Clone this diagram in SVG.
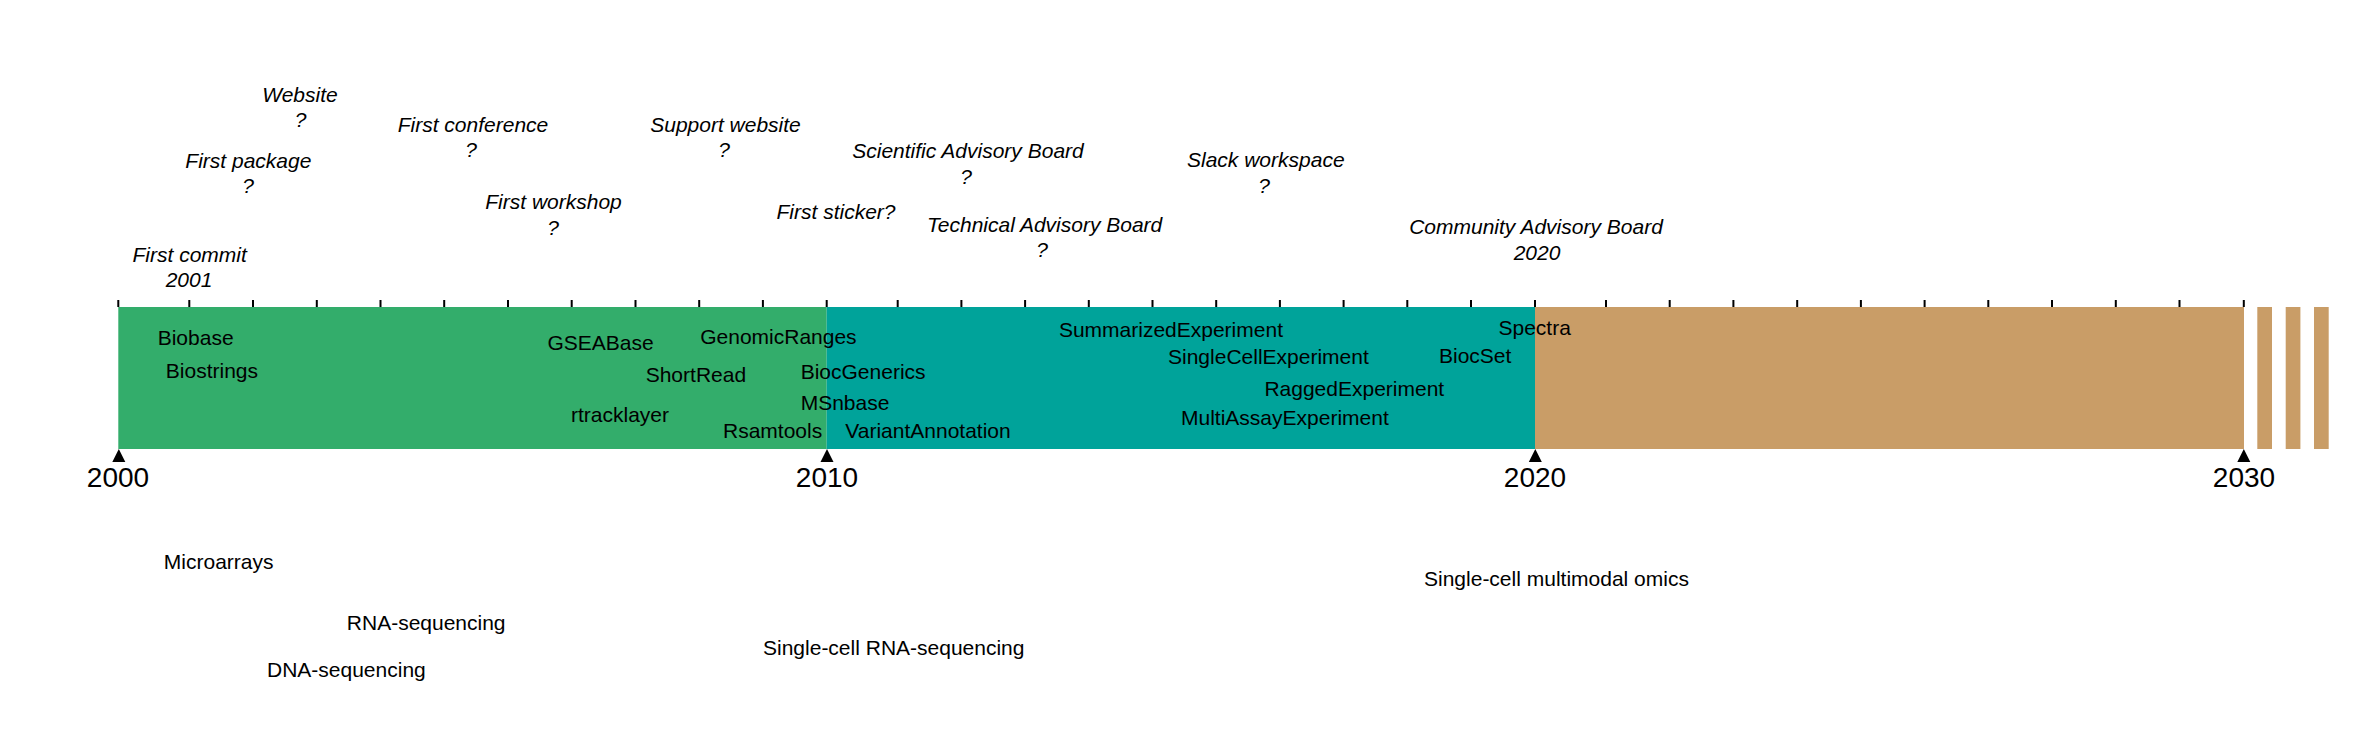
<svg xmlns="http://www.w3.org/2000/svg" width="2366" height="752" viewBox="0 0 2366 752">
<style>
text{font-family:"Liberation Sans",Arial,sans-serif;fill:#000}
.yr{font-size:28px;text-anchor:middle}
.ev{font-size:21px;font-style:italic;text-anchor:middle}
.pk{font-size:21px}
.tc{font-size:21px}
.tick{stroke:#000;stroke-width:2}
</style>
<defs>
<path id="tri" d="M0,0 L6.5,13 L-6.5,13 Z" fill="#000"/>
</defs>
<rect width="2366" height="752" fill="#fff"/>
<g id="bar">
<rect x="118.3" y="307" width="708.4" height="142" fill="#33AD6B"/>
<rect x="826.7" y="307" width="708.3" height="142" fill="#00A39A"/>
<rect x="1535" y="307" width="709" height="142" fill="#C99D67"/>
<rect x="2257.3" y="307" width="14.7" height="142" fill="#C99D67"/>
<rect x="2285.7" y="307" width="14.7" height="142" fill="#C99D67"/>
<rect x="2314" y="307" width="14.7" height="142" fill="#C99D67"/>
</g>
<g id="ticks" class="tick">
<path d="M118.3,300V307M189.3,300V307M253,300V307M316.8,300V307M380.5,300V307M444.2,300V307M508,300V307M571.7,300V307M635.5,300V307M699.2,300V307M762.9,300V307M826.7,300V307
M897.7,300V307M961.4,300V307M1025.1,300V307M1088.8,300V307M1152.5,300V307M1216.2,300V307M1279.9,300V307M1343.6,300V307M1407.3,300V307M1471,300V307M1535,300V307
M1606,300V307M1669.7,300V307M1733.4,300V307M1797.2,300V307M1860.9,300V307M1924.6,300V307M1988.3,300V307M2052,300V307M2115.8,300V307M2179.5,300V307M2243.8,300V307"/>
</g>
<g id="axis-labels">
<use href="#tri" x="118.8" y="449"/>
<use href="#tri" x="827" y="449"/>
<use href="#tri" x="1535.3" y="449"/>
<use href="#tri" x="2243.8" y="449"/>
<text class="yr" x="118" y="487">2000</text>
<text class="yr" x="827" y="487">2010</text>
<text class="yr" x="1535" y="487">2020</text>
<text class="yr" x="2244" y="487">2030</text>
</g>
<g id="events">
<g id="ev-website"><text class="ev" x="300" y="101.7">Website</text><text class="ev" x="300.5" y="127">?</text></g>
<g id="ev-first-package"><text class="ev" x="248.4" y="168">First package</text><text class="ev" x="248" y="193">?</text></g>
<g id="ev-first-conference"><text class="ev" x="473" y="132">First conference</text><text class="ev" x="471" y="157">?</text></g>
<g id="ev-support-website"><text class="ev" x="725.5" y="132">Support website</text><text class="ev" x="724" y="157">?</text></g>
<g id="ev-first-workshop"><text class="ev" x="553.5" y="209">First workshop</text><text class="ev" x="553" y="235">?</text></g>
<g id="ev-first-commit"><text class="ev" x="189.7" y="262">First commit</text><text class="ev" x="189" y="287">2001</text></g>
<g id="ev-first-sticker"><text class="ev" x="836" y="219">First sticker?</text></g>
<g id="ev-sab"><text class="ev" x="968" y="158">Scientific Advisory Board</text><text class="ev" x="966" y="184">?</text></g>
<g id="ev-tab"><text class="ev" x="1044.6" y="232">Technical Advisory Board</text><text class="ev" x="1042" y="257">?</text></g>
<g id="ev-slack"><text class="ev" x="1265.8" y="167">Slack workspace</text><text class="ev" x="1264" y="193">?</text></g>
<g id="ev-cab"><text class="ev" x="1536" y="234">Community Advisory Board</text><text class="ev" x="1537" y="260">2020</text></g>
</g>
<g id="packages">
<text class="pk" x="157.7" y="345">Biobase</text>
<text class="pk" x="165.8" y="378">Biostrings</text>
<text class="pk" x="547.5" y="350">GSEABase</text>
<text class="pk" x="700.2" y="344">GenomicRanges</text>
<text class="pk" x="645.7" y="382">ShortRead</text>
<text class="pk" x="800.7" y="379">BiocGenerics</text>
<text class="pk" x="800.7" y="410">MSnbase</text>
<text class="pk" x="571" y="422">rtracklayer</text>
<text class="pk" x="723" y="437.7">Rsamtools</text>
<text class="pk" x="845.3" y="437.7">VariantAnnotation</text>
<text class="pk" x="1058.9" y="337">SummarizedExperiment</text>
<text class="pk" x="1168" y="364">SingleCellExperiment</text>
<text class="pk" x="1264.4" y="395.7">RaggedExperiment</text>
<text class="pk" x="1181" y="425">MultiAssayExperiment</text>
<text class="pk" x="1439" y="362.7">BiocSet</text>
<text class="pk" x="1498.5" y="335">Spectra</text>
</g>
<g id="technologies">
<text class="tc" x="163.8" y="569">Microarrays</text>
<text class="tc" x="346.8" y="630">RNA-sequencing</text>
<text class="tc" x="267" y="677">DNA-sequencing</text>
<text class="tc" x="763" y="655">Single-cell RNA-sequencing</text>
<text class="tc" x="1424" y="586">Single-cell multimodal omics</text>
</g>
</svg>
